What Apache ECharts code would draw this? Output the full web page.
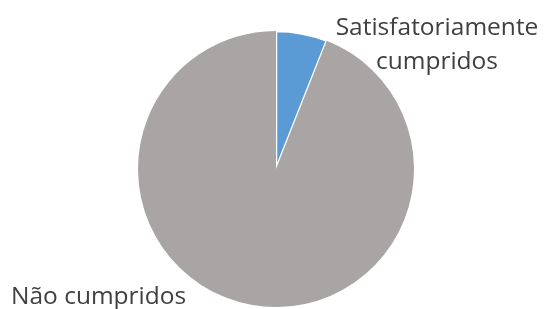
<!DOCTYPE html>
<html>
<head>
<meta charset="utf-8">
<script src="https://cdn.jsdelivr.net/npm/echarts@6/dist/echarts.min.js"></script>
<style>
  html, body { margin: 0; padding: 0; background: #fff; }
  #chart { width: 551px; height: 309px; }
</style>
</head>
<body>
<div id="chart"></div>
<script>
var categories = ['Satisfatoriamente\ncumpridos', 'Não cumpridos']
var values = [6, 94]
var colors = ['#5B9BD5', '#A9A5A5']

var myChart = echarts.init(document.getElementById('chart'))

// posições fixas dos rótulos, como no original
var labelPos = [
  { x: 437, y: 45, align: 'center' },
  { x: 11, y: 297, align: 'left' }
]

var option = {
  animation: false,
  series: [{
    type: 'pie',
    center: [276, 169],
    radius: 138,
    startAngle: 90,
    clockwise: true,
    data: values.map(function (v, i) {
      return {
        name: categories[i],
        value: v,
        itemStyle: {
          color: colors[i],
          borderColor: i === 0 ? '#fff' : colors[i],
          borderWidth: i === 0 ? 2.5 : 0
        }
      }
    }),
    label: {
      show: true,
      position: 'outside',
      formatter: '{b}',
      color: '#404040',
      fontSize: 24.5,
      lineHeight: 34,
      fontFamily: 'Open Sans',
      overflow: 'none',
      width: 260
    },
    labelLine: { show: false },
    labelLayout: function (params) {
      var p = labelPos[params.dataIndex]
      return { x: p.x, y: p.y, align: p.align, verticalAlign: 'middle' }
    }
  }]
}
myChart.setOption(option)
</script>
</body>
</html>
